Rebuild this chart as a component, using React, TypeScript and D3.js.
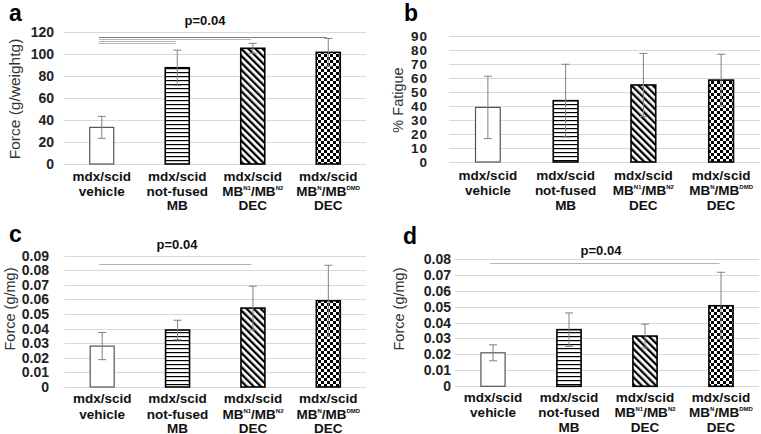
import React from "react";
import * as d3 from "d3";

const categories = ["vehicle", "notfused", "n1n2", "ndmd"];

const valuesA = [33.3, 87.5, 105.2, 101.5];
const errorsA = [10, 16, 4.5, 12.7];
const ticksA = [0, 20, 40, 60, 80, 100, 120];

const valuesB = [39, 43.8, 55, 58.5];
const errorsB = [22.3, 26, 22.6, 18.5];
const ticksB = [0, 10, 20, 30, 40, 50, 60, 70, 80, 90];

const valuesC = [0.028, 0.039, 0.054, 0.059];
const errorsC = [0.0093, 0.0067, 0.015, 0.0243];
const ticksC = [0, 0.01, 0.02, 0.03, 0.04, 0.05, 0.06, 0.07, 0.08, 0.09];

const valuesD = [0.021, 0.0355, 0.0315, 0.0505];
const errorsD = [0.005, 0.0105, 0.0075, 0.021];
const ticksD = [0, 0.01, 0.02, 0.03, 0.04, 0.05, 0.06, 0.07, 0.08];

const sigA = [
  { from: 0, to: 3, level: 115.7, dark: true },
  { from: 0, to: 2, level: 113.6, dark: false },
  { from: 0, to: 1, level: 111.8, dark: false },
  { from: 0, to: 1, level: 110.3, dark: false },
];
const sigC = [{ from: 0, to: 2, level: 0.0844, dark: false }];
const sigD = [{ from: 0, to: 3, level: 0.0775, dark: false }];

const fills = ["white", "url(#phoriz)", "url(#pdiag)", "url(#pcheck)"];

const FONT = "'Liberation Sans', Arial, sans-serif";

function XLabel({ i, x, ys }: { i: number; x: number; ys: number[] }) {
  const common = {
    x,
    textAnchor: "middle" as const,
    fontFamily: FONT,
    fontWeight: "bold",
    fontSize: 13.5,
    fill: "#111",
  };
  const lines: React.ReactNode[] = [];
  lines.push(
    <text key="l0" y={ys[0]} {...common}>
      mdx/scid
    </text>
  );
  if (i === 0) {
    lines.push(
      <text key="l1" y={ys[1]} {...common}>
        vehicle
      </text>
    );
  } else if (i === 1) {
    lines.push(
      <text key="l1" y={ys[1]} {...common}>
        not-fused
      </text>
    );
    lines.push(
      <text key="l2" y={ys[2]} {...common}>
        MB
      </text>
    );
  } else {
    const s1 = i === 2 ? "N1" : "N";
    const s2 = i === 2 ? "N2" : "DMD";
    lines.push(
      <text key="l1" y={ys[1]} {...common}>
        MB
        <tspan fontSize={6} dy={-6}>
          {s1}
        </tspan>
        <tspan dy={6}>/MB</tspan>
        <tspan fontSize={6} dy={-6}>
          {s2}
        </tspan>
      </text>
    );
    lines.push(
      <text key="l2" y={ys[2]} {...common}>
        DEC
      </text>
    );
  }
  return <g>{lines}</g>;
}

type PanelProps = {
  letter: string;
  letterX: number;
  letterY: number;
  x0: number;
  x1: number;
  yBase: number;
  yTop: number;
  max: number;
  ticks: number[];
  tickFmt: (v: number) => string;
  tickX: number;
  tickSize: number;
  tickSpacing?: number;
  title: string;
  titleX: number;
  titleY: number;
  titleSize: number;
  labelYs: number[];
  values: number[];
  errors: number[];
  sig: { from: number; to: number; level: number; dark: boolean }[];
  pText?: { x: number; y: number };
};

function Panel(p: PanelProps) {
  const xb = d3
    .scaleBand<string>()
    .domain(categories)
    .range([p.x0, p.x1])
    .paddingInner(0.682)
    .paddingOuter(0.341);
  const y = d3.scaleLinear().domain([0, p.max]).range([p.yBase, p.yTop]);
  const bw = xb.bandwidth();
  const cx = (i: number) => (xb(categories[i]) as number) + bw / 2;
  return (
    <g>
      <text
        x={p.letterX}
        y={p.letterY}
        fontFamily={FONT}
        fontWeight="bold"
        fontSize={23}
        fill="#000"
      >
        {p.letter}
      </text>
      {p.ticks.map((t) => (
        <line
          key={"g" + t}
          x1={p.x0}
          x2={p.x1}
          y1={Math.round(y(t)) + 0.5}
          y2={Math.round(y(t)) + 0.5}
          stroke="#d9d9d9"
          strokeWidth={1}
        />
      ))}
      {p.ticks.map((t) => (
        <text
          key={"t" + t}
          x={p.tickX}
          y={y(t)}
          dy="0.36em"
          textAnchor="end"
          fontFamily={FONT}
          fontWeight="bold"
          fontSize={p.tickSize}
          letterSpacing={p.tickSpacing || 0}
          fill="#222"
        >
          {p.tickFmt(t)}
        </text>
      ))}
      <text
        transform={`translate(${p.titleX},${p.titleY}) rotate(-90)`}
        textAnchor="middle"
        dy="0.35em"
        fontFamily={FONT}
        fontSize={p.titleSize}
        fill="#333"
      >
        {p.title}
      </text>
      {p.values.map((v, i) => (
        <rect
          key={"b" + i}
          x={xb(categories[i])}
          y={y(v)}
          width={bw}
          height={p.yBase - y(v)}
          fill={fills[i]}
          stroke={i === 0 ? "#555" : "#000"}
          strokeWidth={i === 0 ? 1.2 : 1.6}
        />
      ))}
      {p.values.map((v, i) => {
        const x = cx(i);
        const yt = y(v + p.errors[i]);
        const yb = y(v - p.errors[i]);
        return (
          <g key={"e" + i} stroke="#808080" strokeWidth={1}>
            <line x1={x} x2={x} y1={yt} y2={yb} />
            <line x1={x - 4} x2={x + 4} y1={yt} y2={yt} />
            <line x1={x - 4} x2={x + 4} y1={yb} y2={yb} />
          </g>
        );
      })}
      {p.sig.map((s, k) => (
        <line
          key={"s" + k}
          x1={cx(s.from) - 3}
          x2={cx(s.to) - 1.5}
          y1={Math.round(y(s.level)) + 0.5}
          y2={Math.round(y(s.level)) + 0.5}
          stroke={s.dark ? "#808080" : "#b5b5b5"}
          strokeWidth={1}
        />
      ))}
      {p.pText && (
        <text
          x={p.pText.x}
          y={p.pText.y}
          textAnchor="middle"
          fontFamily={FONT}
          fontWeight="bold"
          fontSize={13}
          fill="#111"
        >
          p=0.04
        </text>
      )}
      {categories.map((c, i) => (
        <XLabel key={c} i={i} x={cx(i)} ys={p.labelYs} />
      ))}
    </g>
  );
}

const fmtInt = (v: number) => String(v);
const fmt2 = (v: number) => (v === 0 ? "0" : d3.format(".2f")(v));

export default function App() {
  return (
    <svg
      width={761}
      height={434}
      style={{ position: "absolute", left: 0, top: 0, background: "white" }}
    >
      <defs>
        <pattern id="phoriz" width={4} height={4} patternUnits="userSpaceOnUse">
          <rect width={4} height={4} fill="white" />
          <rect y={0} width={4} height={1.2} fill="#000" />
        </pattern>
        <pattern
          id="pdiag"
          width={5}
          height={10}
          patternUnits="userSpaceOnUse"
          patternTransform="rotate(-45)"
        >
          <rect width={5} height={10} fill="white" />
          <rect width={2.3} height={10} fill="#000" />
        </pattern>
        <pattern id="pcheck" width={6} height={6} patternUnits="userSpaceOnUse">
          <rect width={6} height={6} fill="white" />
          <rect x={0} y={0} width={3} height={3} fill="#000" />
          <rect x={3} y={3} width={3} height={3} fill="#000" />
        </pattern>
      </defs>
      <rect width={761} height={434} fill="white" />
      <Panel
        letter="a"
        letterX={9}
        letterY={21}
        x0={64}
        x1={366}
        yBase={164}
        yTop={32}
        max={120}
        ticks={ticksA}
        tickFmt={fmtInt}
        tickX={54}
        tickSize={14}
        title="Force (g/weightg)"
        titleX={15}
        titleY={99}
        titleSize={15.5}
        labelYs={[181, 195.5, 209.5]}
        values={valuesA}
        errors={errorsA}
        sig={sigA}
        pText={{ x: 205, y: 24.5 }}
      />
      <Panel
        letter="b"
        letterX={404}
        letterY={21}
        x0={449}
        x1={760}
        yBase={162}
        yTop={36}
        max={90}
        ticks={ticksB}
        tickFmt={fmtInt}
        tickX={428}
        tickSize={13.5}
        tickSpacing={1}
        title="% Fatigue"
        titleX={398}
        titleY={100}
        titleSize={14.5}
        labelYs={[180, 195, 209.5]}
        values={valuesB}
        errors={errorsB}
        sig={[]}
      />
      <Panel
        letter="c"
        letterX={9}
        letterY={242}
        x0={64.5}
        x1={366}
        yBase={387}
        yTop={255.5}
        max={0.09}
        ticks={ticksC}
        tickFmt={fmt2}
        tickX={49}
        tickSize={14}
        title="Force (g/mg)"
        titleX={10}
        titleY={309}
        titleSize={14.5}
        labelYs={[403, 418.5, 432.5]}
        values={valuesC}
        errors={errorsC}
        sig={sigC}
        pText={{ x: 177, y: 248.5 }}
      />
      <Panel
        letter="d"
        letterX={403}
        letterY={244}
        x0={455}
        x1={759}
        yBase={386.3}
        yTop={258.7}
        max={0.08}
        ticks={ticksD}
        tickFmt={fmt2}
        tickX={451}
        tickSize={14}
        title="Force (g/mg)"
        titleX={399}
        titleY={309}
        titleSize={14.5}
        labelYs={[402, 417, 431.5]}
        values={valuesD}
        errors={errorsD}
        sig={sigD}
        pText={{ x: 601, y: 254.5 }}
      />
    </svg>
  );
}
